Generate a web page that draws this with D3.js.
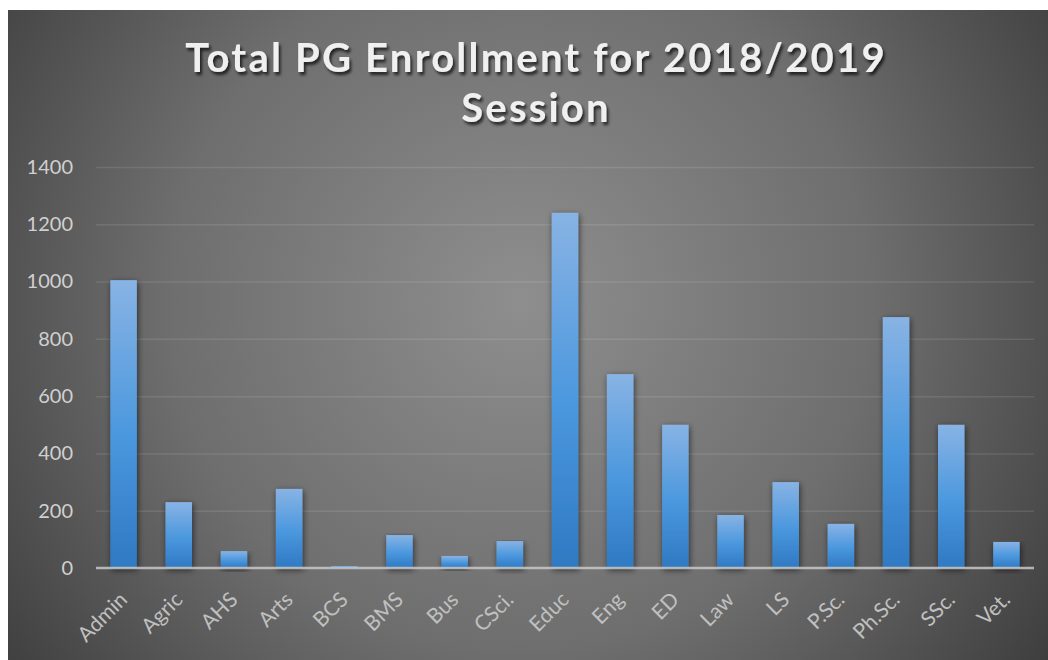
<!DOCTYPE html>
<html>
<head>
<meta charset="utf-8">
<script src="https://cdn.jsdelivr.net/npm/d3@7"></script>
<style>
  html, body { margin: 0; padding: 0; background: #ffffff; }
  svg { display: block; }
</style>
</head>
<body>
<svg id="chart" width="1048" height="660"></svg>
<script>
// Faculty codes along the x axis
const categories = ["Admin", "Agric", "AHS", "Arts", "BCS", "BMS", "Bus", "CSci.", "Educ", "Eng", "ED", "Law", "LS", "P.Sc.", "Ph.Sc.", "SSc.", "Vet."];
// Postgraduate enrollment per faculty
const enrollment = [1005, 230, 59, 276, 7, 115, 42, 94, 1240, 677, 500, 185, 300, 154, 876, 500, 91];
// Value axis ticks
const yTicks = [0, 200, 400, 600, 800, 1000, 1200, 1400];
const titleLines = ["Total PG Enrollment for 2018/2019", "Session"];

const svg = d3.select("#chart");
const W = 1048, H = 660;
const frame = { x: 8, y: 10, w: W - 8, h: H - 10 };
const plot = { left: 96, right: 1034, top: 167, bottom: 568 };
const font = "Lato, 'Open Sans', sans-serif";

const defs = svg.append("defs");

// Radial gray backdrop, lighter in the middle
const bg = defs.append("radialGradient")
  .attr("id", "bgGrad")
  .attr("gradientUnits", "userSpaceOnUse")
  .attr("cx", 520).attr("cy", 300).attr("r", 640);
bg.append("stop").attr("offset", "0%").attr("stop-color", "#8e8e8e");
bg.append("stop").attr("offset", "55%").attr("stop-color", "#6e6e6e");
bg.append("stop").attr("offset", "100%").attr("stop-color", "#3e3e3e");

// Vertical blue fill for the bars
const barGrad = defs.append("linearGradient")
  .attr("id", "barGrad")
  .attr("x1", 0).attr("y1", 0).attr("x2", 0).attr("y2", 1);
barGrad.append("stop").attr("offset", "0%").attr("stop-color", "#88b3e4");
barGrad.append("stop").attr("offset", "55%").attr("stop-color", "#4a97de");
barGrad.append("stop").attr("offset", "100%").attr("stop-color", "#2f79c2");

// Soft shadow behind each bar
const shadow = defs.append("filter").attr("id", "barShadow")
  .attr("x", "-40%").attr("y", "-10%").attr("width", "180%").attr("height", "130%");
shadow.append("feGaussianBlur").attr("in", "SourceAlpha").attr("stdDeviation", 3).attr("result", "b");
shadow.append("feOffset").attr("in", "b").attr("dx", 1).attr("dy", 2).attr("result", "o");
shadow.append("feComponentTransfer").attr("in", "o").attr("result", "s")
  .append("feFuncA").attr("type", "linear").attr("slope", 0.6);
const sm = shadow.append("feMerge");
sm.append("feMergeNode").attr("in", "s");
sm.append("feMergeNode").attr("in", "SourceGraphic");

// Shadow for the title text
const tshadow = defs.append("filter").attr("id", "titleShadow")
  .attr("x", "-10%").attr("y", "-30%").attr("width", "120%").attr("height", "160%");
tshadow.append("feGaussianBlur").attr("in", "SourceAlpha").attr("stdDeviation", 1.5).attr("result", "b");
tshadow.append("feOffset").attr("in", "b").attr("dx", 1.5).attr("dy", 2.5).attr("result", "o");
tshadow.append("feComponentTransfer").attr("in", "o").attr("result", "s")
  .append("feFuncA").attr("type", "linear").attr("slope", 0.7);
const tm = tshadow.append("feMerge");
tm.append("feMergeNode").attr("in", "s");
tm.append("feMergeNode").attr("in", "SourceGraphic");

svg.append("rect")
  .attr("x", frame.x).attr("y", frame.y)
  .attr("width", frame.w).attr("height", frame.h)
  .attr("fill", "url(#bgGrad)");

// Title
const title = svg.append("text")
  .attr("text-anchor", "middle")
  .attr("font-family", font)
  .attr("font-weight", 700)
  .attr("font-size", 40)
  .attr("letter-spacing", 2.2)
  .attr("fill", "#f0f0f0")
  .attr("filter", "url(#titleShadow)");
titleLines.forEach((t, i) => {
  title.append("tspan").attr("x", 536).attr("y", 72 + i * 50).text(t);
});

// Scales
const x = d3.scaleBand()
  .domain(categories)
  .range([plot.left, plot.right])
  .paddingInner(0.52)
  .paddingOuter(0.26);
const y = d3.scaleLinear().domain([0, 1400]).range([plot.bottom, plot.top]);

// Horizontal gridlines and value labels
const yAxis = d3.axisLeft(y)
  .tickValues(yTicks)
  .tickFormat(d3.format("d"))
  .tickSize(-(plot.right - plot.left))
  .tickPadding(23);
const gy = svg.append("g").attr("transform", `translate(${plot.left},0)`).call(yAxis);
gy.select(".domain").remove();
gy.selectAll(".tick line")
  .attr("stroke", "#ffffff").attr("stroke-opacity", d => d === 0 ? 0 : 0.1).attr("stroke-width", 1.5);
gy.selectAll(".tick text")
  .attr("font-family", font)
  .attr("font-size", 20)
  .attr("fill", "#d0d0d0");

// Bars
svg.append("g").selectAll("rect")
  .data(categories.map((c, i) => ({ c, v: enrollment[i] })))
  .join("rect")
  .attr("x", d => x(d.c))
  .attr("y", d => y(d.v))
  .attr("width", x.bandwidth())
  .attr("height", d => y(0) - y(d.v))
  .attr("fill", "url(#barGrad)")
  .attr("filter", "url(#barShadow)");

// Category axis baseline and rotated labels
const xAxis = d3.axisBottom(x).tickSize(0).tickPadding(0);
const gx = svg.append("g").attr("transform", `translate(0,${plot.bottom})`).call(xAxis);
gx.select(".domain")
  .attr("d", `M${plot.left},0H${plot.right}`)
  .attr("stroke", "#c8c8c8").attr("stroke-width", 2.5).attr("stroke-opacity", 0.85);
gx.selectAll(".tick text")
  .attr("font-family", font)
  .attr("font-size", 21)
  .attr("fill", "#c0c0c0")
  .attr("text-anchor", "end")
  .attr("dy", 0)
  .attr("transform", "translate(5,33) rotate(-45)");
</script>
</body>
</html>
